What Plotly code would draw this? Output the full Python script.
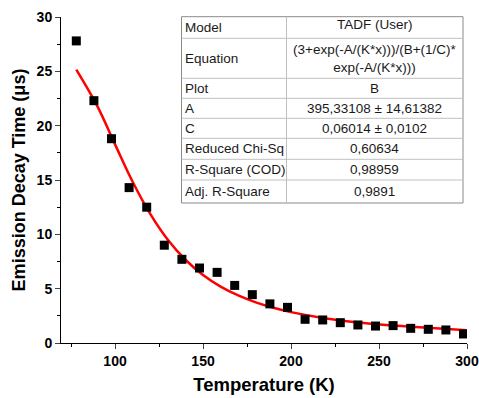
import plotly.graph_objects as go

# Data
temperature = [78, 88, 98, 108, 118, 128, 138, 148, 158, 168, 178, 188, 198,
               208, 218, 228, 238, 248, 258, 268, 278, 288, 298]
decay_time = [27.8, 22.3, 18.8, 14.3, 12.5, 9.0, 7.7, 6.9, 6.5, 5.3, 4.45, 3.6, 3.28,
              2.18, 2.12, 1.87, 1.66, 1.56, 1.6, 1.35, 1.26, 1.2, 0.83]

# Fit curve (TADF model) values
fit_x = [78, 90, 100, 110, 120, 130, 140, 150, 160, 170, 180, 190, 200,
         220, 240, 260, 280, 300]
fit_y = [25.15, 21.77, 18.28, 14.84, 11.88, 9.50, 7.66, 6.26, 5.19, 4.38, 3.74, 3.24, 2.84,
         2.26, 1.86, 1.58, 1.37, 1.18]

table_labels = ["Model", "Equation", "Plot", "A", "C", "Reduced Chi-Sq",
                "R-Square (COD)", "Adj. R-Square"]
table_values = ["TADF (User)", "(3+exp(-A/(K*x)))/(B+(1/C)*<br>exp(-A/(K*x)))", "B",
                "395,33108 ± 14,61382", "0,06014 ± 0,0102", "0,60634",
                "0,98959", "0,9891"]

W, H = 479, 398
L, R, T, B = 61, 12, 17, 55
PW, PH = W - L - R, H - T - B

def px(x):
    return (x - L) / PW

def py(y):
    return (H - B - y) / PH

fig = go.Figure()
fig.add_trace(go.Scatter(x=fit_x, y=fit_y, mode="lines", line=dict(color="#ff0000", width=2.5, shape="spline"),
                         showlegend=False, hoverinfo="skip"))
fig.add_trace(go.Scatter(x=temperature, y=decay_time, mode="markers",
                         marker=dict(symbol="square", size=9, color="black"), showlegend=False))

# Table
row_edges = [16.7, 38.3, 78.3, 98.3, 118.3, 138.3, 159.3, 180, 203]
tx0, tx1, tdiv = 181.5, 463, 286.5
shapes = []
shapes.append(dict(type="rect", xref="paper", yref="paper", x0=px(tx0), x1=px(tx1),
                   y0=py(row_edges[-1]), y1=py(row_edges[0]),
                   line=dict(color="#8a8a8a", width=1), fillcolor="white", layer="above"))
for ye in row_edges[1:-1]:
    shapes.append(dict(type="line", xref="paper", yref="paper", x0=px(tx0), x1=px(tx1),
                       y0=py(ye), y1=py(ye), line=dict(color="#c0c0c0", width=1), layer="above"))
shapes.append(dict(type="line", xref="paper", yref="paper", x0=px(tdiv), x1=px(tdiv),
                   y0=py(row_edges[-1]), y1=py(row_edges[0]), line=dict(color="#c0c0c0", width=1), layer="above"))

annotations = []
for i, (lab, val) in enumerate(zip(table_labels, table_values)):
    yc = (row_edges[i] + row_edges[i + 1]) / 2
    annotations.append(dict(xref="paper", yref="paper", x=px(tx0 + 1), y=py(yc), text=lab,
                            showarrow=False, xanchor="left", yanchor="middle",
                            font=dict(family="Arial, Liberation Sans", size=13.5, color="#1a1a1a")))
    vy = yc if i != 0 else yc - 3
    annotations.append(dict(xref="paper", yref="paper", x=px((tdiv + tx1) / 2), y=py(vy), text=val,
                            showarrow=False, xanchor="center", yanchor="middle",
                            font=dict(family="Arial, Liberation Sans", size=13.5, color="#1a1a1a")))

fig.update_layout(
    width=W, height=H, margin=dict(l=L, r=R, t=T, b=B),
    plot_bgcolor="white", paper_bgcolor="white",
    shapes=shapes, annotations=annotations,
    font=dict(family="Arial, Liberation Sans", color="black"),
)
fig.update_xaxes(range=[69.3, 300], tick0=100, dtick=50, ticks="outside", ticklen=5, tickwidth=1,
                 showline=True, linecolor="black", linewidth=1, showgrid=False, zeroline=False,
                 automargin=False,
                 tickfont=dict(size=14, family="Liberation Sans", weight="bold"),
                 minor=dict(ticks="outside", ticklen=3, dtick=25, tick0=75, tickcolor="black"),
                 title=dict(text="<b>Temperature (K)</b>", font=dict(size=18.5), standoff=10))
fig.update_yaxes(range=[0, 30], tick0=0, dtick=5, ticks="outside", ticklen=5, tickwidth=1,
                 showline=True, linecolor="black", linewidth=1, showgrid=False, zeroline=False,
                 automargin=False,
                 tickfont=dict(size=14, family="Liberation Sans", weight="bold"),
                 minor=dict(ticks="outside", ticklen=3, dtick=2.5, tickcolor="black"),
                 title=dict(text="<b>Emission Decay Time (μs)</b>", font=dict(size=18), standoff=6))

fig.write_html("out.html")
